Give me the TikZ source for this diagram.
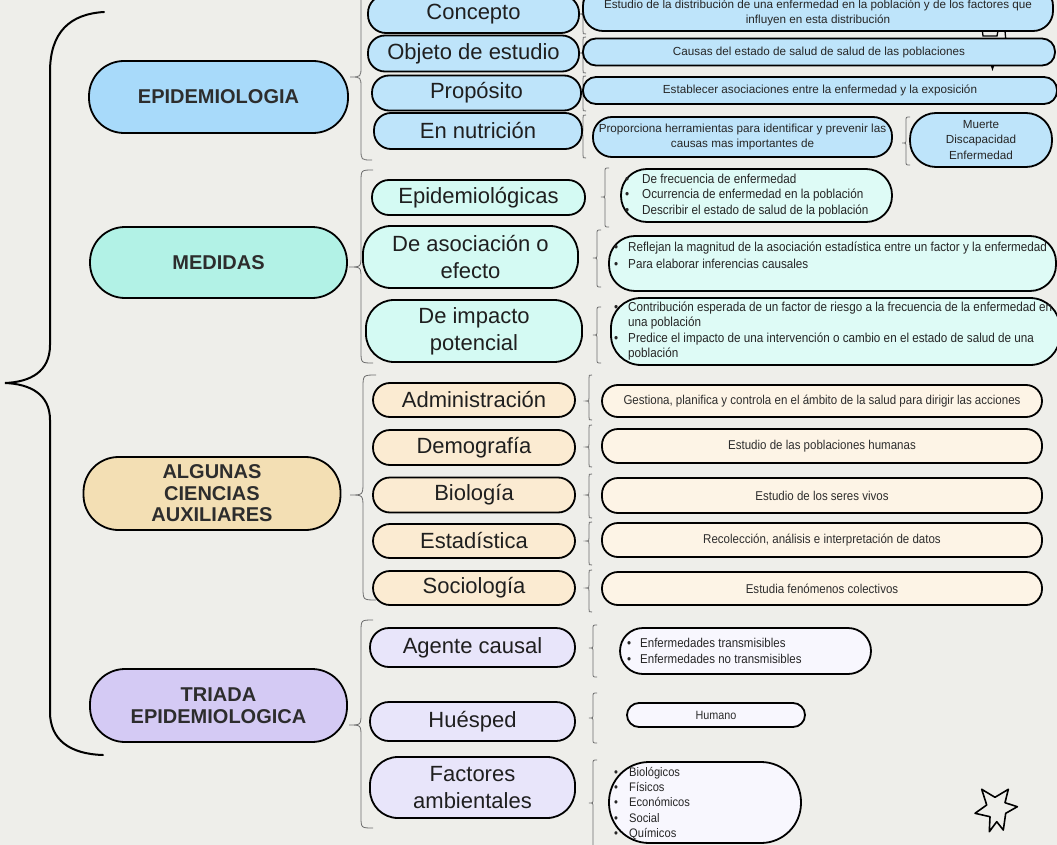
\documentclass[tikz,border=0pt]{standalone}
\usepackage{fontspec}
\setmainfont{Liberation Sans}
\newfontfamily\condf[FakeStretch=0.9]{Liberation Sans}
\definecolor{bgc}{RGB}{238,238,234}
\definecolor{epimain}{RGB}{168,218,250}
\definecolor{epirow}{RGB}{190,228,250}
\definecolor{medmain}{RGB}{178,242,230}
\definecolor{medrow}{RGB}{212,250,243}
\definecolor{medd}{RGB}{222,251,246}
\definecolor{algmain}{RGB}{243,223,180}
\definecolor{algrow}{RGB}{251,235,210}
\definecolor{algd}{RGB}{253,244,230}
\definecolor{trimain}{RGB}{212,202,244}
\definecolor{trirow}{RGB}{232,229,250}
\definecolor{trid}{RGB}{248,247,254}
\definecolor{txtd}{RGB}{45,45,45}
\definecolor{brcc}{RGB}{110,110,110}
\tikzset{
  pill/.style={draw=black, line width=1.8pt, rounded corners=#1, inner sep=0pt, align=center, text=txtd},
  pill/.default=17pt,
  mainlbl/.style={font=\bfseries\fontsize{20}{22}\selectfont},
  rowlbl/.style={font=\fontsize{22}{27}\selectfont, text=black!88},
  epitxt/.style={font=\fontsize{11.7}{15.5}\selectfont, align=center, inner sep=0pt, text=black!85},
  listtxt/.style={anchor=west, inner sep=0pt, align=left, text=black!85},
  brc/.style={draw=brcc, line width=0.8pt}
}
\newcommand\mybrace[5]{\draw[brc] (#1+#5,#2) .. controls (#1,#2) .. (#1,#2+#5) -- (#1,#4-#5) .. controls (#1,#4) .. (#1-#5,#4) .. controls (#1,#4) .. (#1,#4+#5) -- (#1,#3-#5) .. controls (#1,#3) .. (#1+#5,#3);}
\newcommand\bul[1][14pt]{\makebox[#1][l]{\textbullet}}
\begin{document}
\begin{tikzpicture}[x=1pt,y=-1pt]
\fill[bgc] (0,0) rectangle (1057,845);
\useasboundingbox (0,0) rectangle (1057,845);
\clip (0,0) rectangle (1057,845);

% big brace
\draw[line width=2pt, line cap=round] (104,12) .. controls (70,14) and (50,32) .. (50,72) -- (50,345) .. controls (50,372) and (30,382) .. (5,383) .. controls (30,384) and (50,394) .. (50,420) -- (50,712) .. controls (50,740) and (70,754) .. (103,755);

% partly hidden shape behind the top description boxes
\draw[line width=1.3pt] (981,20) -- (983,36) -- (997,36) -- (1000,20);
\draw[line width=1.3pt] (1004,20) -- (1006,42);
\fill[black] (989,60) -- (992.5,71) -- (996,60) -- cycle;

% group braces
\mybrace{361}{-10}{160}{77}{11}
\mybrace{361}{170}{363}{267}{12}
\mybrace{363}{375}{600}{495}{13}
\mybrace{361}{620}{828}{725}{12}

% row brackets
\mybrace{583}{-2}{34}{14}{3}
\mybrace{583}{37}{73}{53}{3}
\mybrace{583}{76}{111}{93}{3}
\mybrace{583}{115}{158}{133}{3}
\mybrace{906}{117}{165}{143}{4}
\mybrace{605}{168}{227}{197}{4}
\mybrace{597}{230}{287}{258}{4}
\mybrace{597}{307}{363}{335}{4}
\mybrace{589}{375}{420}{401}{3}
\mybrace{589}{425}{467}{447}{3}
\mybrace{589}{474}{518}{495}{3}
\mybrace{589}{522}{565}{541}{3}
\mybrace{589}{570}{612}{588}{3}
\mybrace{593}{625}{677}{648}{4}
\mybrace{593}{693}{743}{718}{4}
\mybrace{593}{760}{850}{803}{4}

% main nodes
\node[pill=35pt, fill=epimain, minimum width=259pt, minimum height=72pt, mainlbl] (epi) at (218.5,97) {EPIDEMIOLOGIA};
\node[pill=35pt, fill=medmain, minimum width=257pt, minimum height=71pt, mainlbl] (med) at (218.5,262.5) {MEDIDAS};
\node[pill=35pt, fill=algmain, minimum width=257pt, minimum height=73pt, mainlbl] (alg) at (212,493.5) {ALGUNAS\\[-0.5pt]CIENCIAS\\[-0.5pt]AUXILIARES};
\node[pill=35pt, fill=trimain, minimum width=257pt, minimum height=73pt, mainlbl] (tri) at (218.5,705.5) {TRIADA\\EPIDEMIOLOGICA};

% EPIDEMIOLOGIA rows
\node[pill=18pt, fill=epirow, minimum width=211pt, minimum height=38pt, rowlbl] (concepto) at (473.5,14) {Concepto};
\node[pill=17pt, fill=epirow, minimum width=211pt, minimum height=36pt, rowlbl] (objeto) at (473.5,53.5) {Objeto de estudio};
\node[pill=17pt, fill=epirow, minimum width=209pt, minimum height=35pt, rowlbl] (proposito) at (476.5,93) {Propósito};
\node[pill=17pt, fill=epirow, minimum width=208pt, minimum height=36pt, rowlbl] (nutricion) at (478,131) {En nutrición};

\node[pill=20pt, fill=epirow, minimum width=470pt, minimum height=45pt] (conceptoD) at (818,8.5) {};
\node[epitxt] (conceptoT) at (818,13) {Estudio de la distribución de una enfermedad en la población y de los factores que\\influyen en esta distribución};
\node[pill=13pt, fill=epirow, minimum width=472pt, minimum height=27pt, epitxt] (objetoD) at (819,52) {Causas del estado de salud de salud de las poblaciones};
\node[pill=13pt, fill=epirow, minimum width=474pt, minimum height=27pt, epitxt] (propositoD) at (820,90.5) {Establecer asociaciones entre la enfermedad y la exposición};
\node[pill=19pt, fill=epirow, minimum width=299pt, minimum height=40pt, epitxt] (nutricionD) at (742.5,137) {Proporciona herramientas para identificar y prevenir las\\causas mas importantes de};
\node[pill=26pt, fill=epirow, minimum width=142pt, minimum height=54pt, epitxt] (muerte) at (981,140) {Muerte\\Discapacidad\\Enfermedad};

% MEDIDAS rows
\node[pill=17pt, fill=medrow, minimum width=213pt, minimum height=35pt, rowlbl] (epidemiologicas) at (478.5,197.5) {Epidemiológicas};
\node[pill=28pt, fill=medrow, minimum width=215pt, minimum height=62pt, rowlbl] (asociacion) at (470.5,257) {De asociación o\\efecto};
\node[pill=28pt, fill=medrow, minimum width=216pt, minimum height=62pt, rowlbl] (impacto) at (474,331) {De impacto\\potencial};

\node[pill=26pt, fill=medd, minimum width=271pt, minimum height=53pt] (epidD) at (756.5,195.5) {};
\node[listtxt, font=\condf\fontsize{13}{15.5}\selectfont] (epidT) at (625,195.5) {\bul[17pt]De frecuencia de enfermedad\\\bul[17pt]Ocurrencia de enfermedad en la población\\\bul[17pt]Describir el estado de salud de la población};
\node[pill=26pt, fill=medd, minimum width=447pt, minimum height=55pt] (asocD) at (832.5,263.5) {};
\node[listtxt, font=\condf\fontsize{13}{17}\selectfont] (asocT) at (614,255.5) {\bul Reflejan la magnitud de la asociación estadística entre un factor y la enfermedad\\\bul Para elaborar inferencias causales};
\node[pill=30pt, fill=medd, minimum width=449pt, minimum height=67pt] (impD) at (835.5,331.5) {};
\node[listtxt, font=\condf\fontsize{13}{15.3}\selectfont] (impT) at (614,331) {\bul Contribución esperada de un factor de riesgo a la frecuencia de la enfermedad en\\\hspace*{14pt}una población\\\bul Predice el impacto de una intervención o cambio en el estado de salud de una\\\hspace*{14pt}población};

% CIENCIAS rows
\node[pill=17pt, fill=algrow, minimum width=202pt, minimum height=34pt, rowlbl] (adm) at (474,400) {Administración};
\node[pill=17pt, fill=algrow, minimum width=202pt, minimum height=35pt, rowlbl] (demo) at (474,447.5) {Demografía};
\node[pill=17pt, fill=algrow, minimum width=202pt, minimum height=35pt, rowlbl] (bio) at (474,495) {Biología};
\node[pill=17pt, fill=algrow, minimum width=202pt, minimum height=34pt, rowlbl] (est) at (474,541) {Estadística};
\node[pill=17pt, fill=algrow, minimum width=202pt, minimum height=34pt, rowlbl] (soc) at (474,588) {Sociología};

\node[pill=16pt, fill=algd, minimum width=440pt, minimum height=32pt, font=\condf\fontsize{12.8}{14}\selectfont] (admD) at (822,401) {Gestiona, planifica y controla en el ámbito de la salud para dirigir las acciones};
\node[pill=16pt, fill=algd, minimum width=440pt, minimum height=34pt, font=\condf\fontsize{12.8}{14}\selectfont] (demoD) at (822,446) {Estudio de las poblaciones humanas};
\node[pill=16pt, fill=algd, minimum width=440pt, minimum height=35pt, font=\condf\fontsize{12.8}{14}\selectfont] (bioD) at (822,495.5) {Estudio de los seres vivos};
\node[pill=16pt, fill=algd, minimum width=440pt, minimum height=34pt, font=\condf\fontsize{12.8}{14}\selectfont] (estD) at (822,540) {Recolección, análisis e interpretación de datos};
\node[pill=16pt, fill=algd, minimum width=440pt, minimum height=33pt, font=\condf\fontsize{12.8}{14}\selectfont] (socD) at (822,588.5) {Estudia fenómenos colectivos};

% TRIADA rows
\node[pill=19pt, fill=trirow, minimum width=205pt, minimum height=39pt, rowlbl] (agente) at (472.5,647.5) {Agente causal};
\node[pill=19pt, fill=trirow, minimum width=205pt, minimum height=39pt, rowlbl] (huesped) at (472.5,721.5) {Huésped};
\node[pill=28pt, fill=trirow, minimum width=205pt, minimum height=61pt, rowlbl] (factores) at (472.5,787.5) {Factores\\ambientales};

\node[pill=23pt, fill=trid, minimum width=251pt, minimum height=46pt] (agenteD) at (745.5,651) {};
\node[listtxt, font=\condf\fontsize{12.8}{16}\selectfont] (agenteT) at (627,651) {\bul[13pt]Enfermedades transmisibles\\\bul[13pt]Enfermedades no transmisibles};
\node[pill=12pt, fill=trid, minimum width=178pt, minimum height=24pt, font=\condf\fontsize{12}{14}\selectfont] (humano) at (716,715) {Humano};
\node[pill=40pt, fill=trid, minimum width=192pt, minimum height=81pt] (factD) at (705,802.5) {};
\node[listtxt, font=\condf\fontsize{12.4}{15.25}\selectfont] (factT) at (614,803.5) {\bul[15pt]Biológicos\\\bul[15pt]Físicos\\\bul[15pt]Económicos\\\bul[15pt]Social\\\bul[15pt]Químicos};

% star
\draw[line width=1.6pt, line join=round] (981.7,789.3) -- (995,797.3) -- (1008.3,789.3) -- (1005,802.7) -- (1017.3,806.7) -- (1005.7,813.3) -- (1003.3,830) -- (996.7,821.7) -- (989.3,831.7) -- (990,816.7) -- (975,813.3) -- (986.7,805) -- cycle;
\end{tikzpicture}
\end{document}
